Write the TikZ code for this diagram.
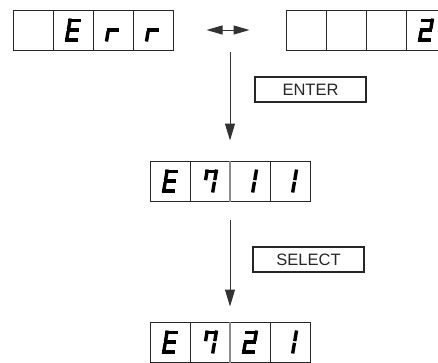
\documentclass[tikz,border=0pt]{standalone}
\usepackage{fontspec}
\setmainfont{Liberation Sans}
\usetikzlibrary{positioning,arrows.meta,calc}

% segments of one slanted digit, centred on (0,0)
\newcommand{\hseg}[1]{\draw[seg] (-6.3,#1) -- (6.3,#1);}
\newcommand{\vseg}[3]{\draw[seg] (#1,#2) -- (#1,#3);}
\newcommand{\sega}{\hseg{-9.8}}
\newcommand{\segg}{\hseg{0}}
\newcommand{\segd}{\hseg{9.8}}
\newcommand{\segf}{\vseg{-4.6}{-11.5}{-0.8}}
\newcommand{\sege}{\vseg{-4.6}{0.8}{11.5}}
\newcommand{\segb}{\vseg{4.6}{-11.5}{-0.8}}
\newcommand{\segc}{\vseg{4.6}{0.8}{11.5}}
% display of four cells: name, left, top, cell/segments
\newcommand{\lcd}[4]{%
  \node[lcdbox] (#1) at (#2+80,#3+20) {};
  \foreach \k in {1,2,3} \draw[lcdline] (#2+40*\k,#3) -- (#2+40*\k,#3+40);
  \foreach \i/\segs in {#4} {
    \begin{scope}[shift={(#2+40*\i-20,#3+20)},xslant=0.17]
      \foreach \s in \segs {\csname seg\s\endcsname}
    \end{scope}}}

\begin{document}
\begin{tikzpicture}[x=1pt,y=-1pt,
  seg/.style={draw=black,line width=3.4pt,line cap=butt},
  lcdbox/.style={draw=black!85,line width=1pt,minimum width=160pt,minimum height=40pt,inner sep=0pt},
  lcdline/.style={draw=black!85,line width=1pt},
  keybox/.style={draw=black!85,line width=1.3pt,minimum width=111pt,minimum height=25pt,inner sep=0pt,font=\fontsize{16.5}{19}\selectfont,text=black!85},
  flow/.style={draw=black!80,line width=1pt,-{Triangle[length=17pt,width=10pt]}},
  swap/.style={draw=black!80,line width=1pt,{Triangle[length=16pt,width=9pt]}-{Triangle[length=16pt,width=9pt]}}]
\useasboundingbox (0,0) rectangle (438,362);
\clip (0,0) rectangle (438,362);
\lcd{err}{13}{10}{2/{a,f,g,e,d},3/{e,g},4/{e,g}}
\lcd{code}{286}{10}{4/{a,b,g,e,d}}
\lcd{mid}{150}{161}{1/{a,f,g,e,d},2/{a,b,c,f},3/{b,c},4/{b,c}}
\lcd{bot}{150}{322}{1/{a,f,g,e,d},2/{a,b,c,f},3/{a,b,g,e,d},4/{b,c}}
\draw[black!45,line width=2pt] (mid.north) -- (mid.south);
\draw[black!45,line width=2pt] (bot.north) -- (bot.south);
\node[keybox] (enter) at (310.5,89.5) {ENTER};
\node[keybox] (select) at (308.5,259.5) {SELECT};
\coordinate (entertop) at (230,52);
\draw[swap,shorten <=33pt,shorten >=36pt] (err.east) -- (code.west);
\draw[flow,shorten >=20pt] (entertop) -- (mid.north);
\draw[flow,shorten <=18pt,shorten >=15pt] (mid.south) -- (bot.north);
\end{tikzpicture}
\end{document}
